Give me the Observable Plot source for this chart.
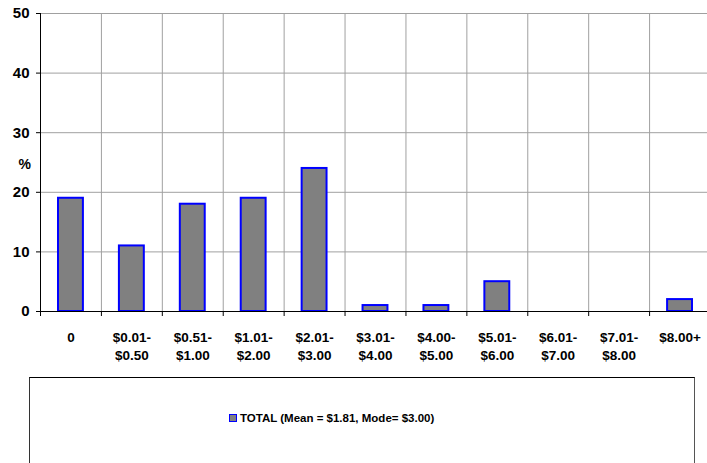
<!DOCTYPE html>
<html>
<head>
<meta charset="utf-8">
<script src="https://cdn.jsdelivr.net/npm/d3@7"></script>
<script src="https://cdn.jsdelivr.net/npm/@observablehq/plot@0.6"></script>
<style>
  html, body { margin: 0; padding: 0; background: #fff; }
  #wrap { position: relative; width: 707px; height: 463px; overflow: hidden; font-family: "Liberation Sans", Arial, sans-serif; }
  #chart { position: absolute; left: 0; top: 0; }
  #legend { position: absolute; left: 29px; top: 377px; width: 666px; height: 100px; border: 1px solid #000; border-left-color: #333; border-right-color: #555; border-bottom: none; box-sizing: border-box; }
  #legend .item { position: absolute; left: 199px; top: 34px; display: flex; align-items: center; font-weight: bold; font-size: 11.5px; color: #000; white-space: nowrap; }
  #legend .sw { width: 6px; height: 6px; background: #808080; border: 1.5px solid #0000ff; margin-right: 3px; }
</style>
</head>
<body>
<div id="wrap">
  <div id="chart"></div>
  <div id="legend"><div class="item"><span class="sw"></span><span id="legtext"></span></div></div>
</div>
<script>
const categories = ["0", "$0.01-\n$0.50", "$0.51-\n$1.00", "$1.01-\n$2.00", "$2.01-\n$3.00", "$3.01-\n$4.00", "$4.00-\n$5.00", "$5.01-\n$6.00", "$6.01-\n$7.00", "$7.01-\n$8.00", "$8.00+"];
const values = [19, 11, 18, 19, 24, 1, 1, 5, 0, 0, 2];
const yTicks = [0, 10, 20, 30, 40, 50];
const seriesName = "TOTAL (Mean = $1.81, Mode= $3.00)";
const yLabel = "%";

const data = categories.map((c, i) => ({cat: c, value: values[i]}));

const W = 707, H = 365, mL = 40, mR = -3, mT = 13, mB = 54;
const step = (W - mL - mR) / categories.length;
const plotH = H - mT - mB;

const chart = Plot.plot({
  width: W, height: H,
  marginTop: mT, marginBottom: mB, marginLeft: mL, marginRight: mR,
  style: {fontFamily: "'Liberation Sans', Arial, sans-serif", fontWeight: "bold", fontSize: "13px", color: "#000", background: "transparent", overflow: "visible"},
  x: {type: "band", domain: categories, padding: 0, round: false},
  y: {domain: [0, 50]},
  marks: [
    Plot.ruleY(yTicks.slice(1), {stroke: "#a0a0a0", strokeWidth: 1}),
    Plot.ruleX(categories.slice(1), {dx: -step / 2, stroke: "#a0a0a0", strokeWidth: 1}),
    Plot.barY(data.filter(d => d.value > 0), {x: "cat", y: "value", fill: "#808080", stroke: "#0000ff", strokeWidth: 2, insetLeft: 18, insetRight: 18}),
    Plot.ruleY([0], {stroke: "#000", strokeWidth: 1}),
    Plot.ruleX([categories[0]], {dx: -step / 2, y1: 0, y2: 50, stroke: "#000", strokeWidth: 1}),
    Plot.ruleX(categories, {dx: -step / 2, stroke: "#000", strokeWidth: 1, insetTop: plotH, insetBottom: -5}),
    Plot.axisY({ticks: yTicks, tickSize: 4, tickPadding: 7, fontSize: 15, label: null, stroke: "#000"}),
    Plot.axisX({tickSize: 0, tickPadding: 17, fontSize: 13.5, label: null, lineHeight: 1.37}),
    Plot.text([yLabel], {frameAnchor: "left", dx: -22, dy: 2, fontSize: 14, fontWeight: "bold"})
  ]
});
document.getElementById("chart").appendChild(chart);
document.getElementById("legtext").textContent = seriesName;
</script>
</body>
</html>
